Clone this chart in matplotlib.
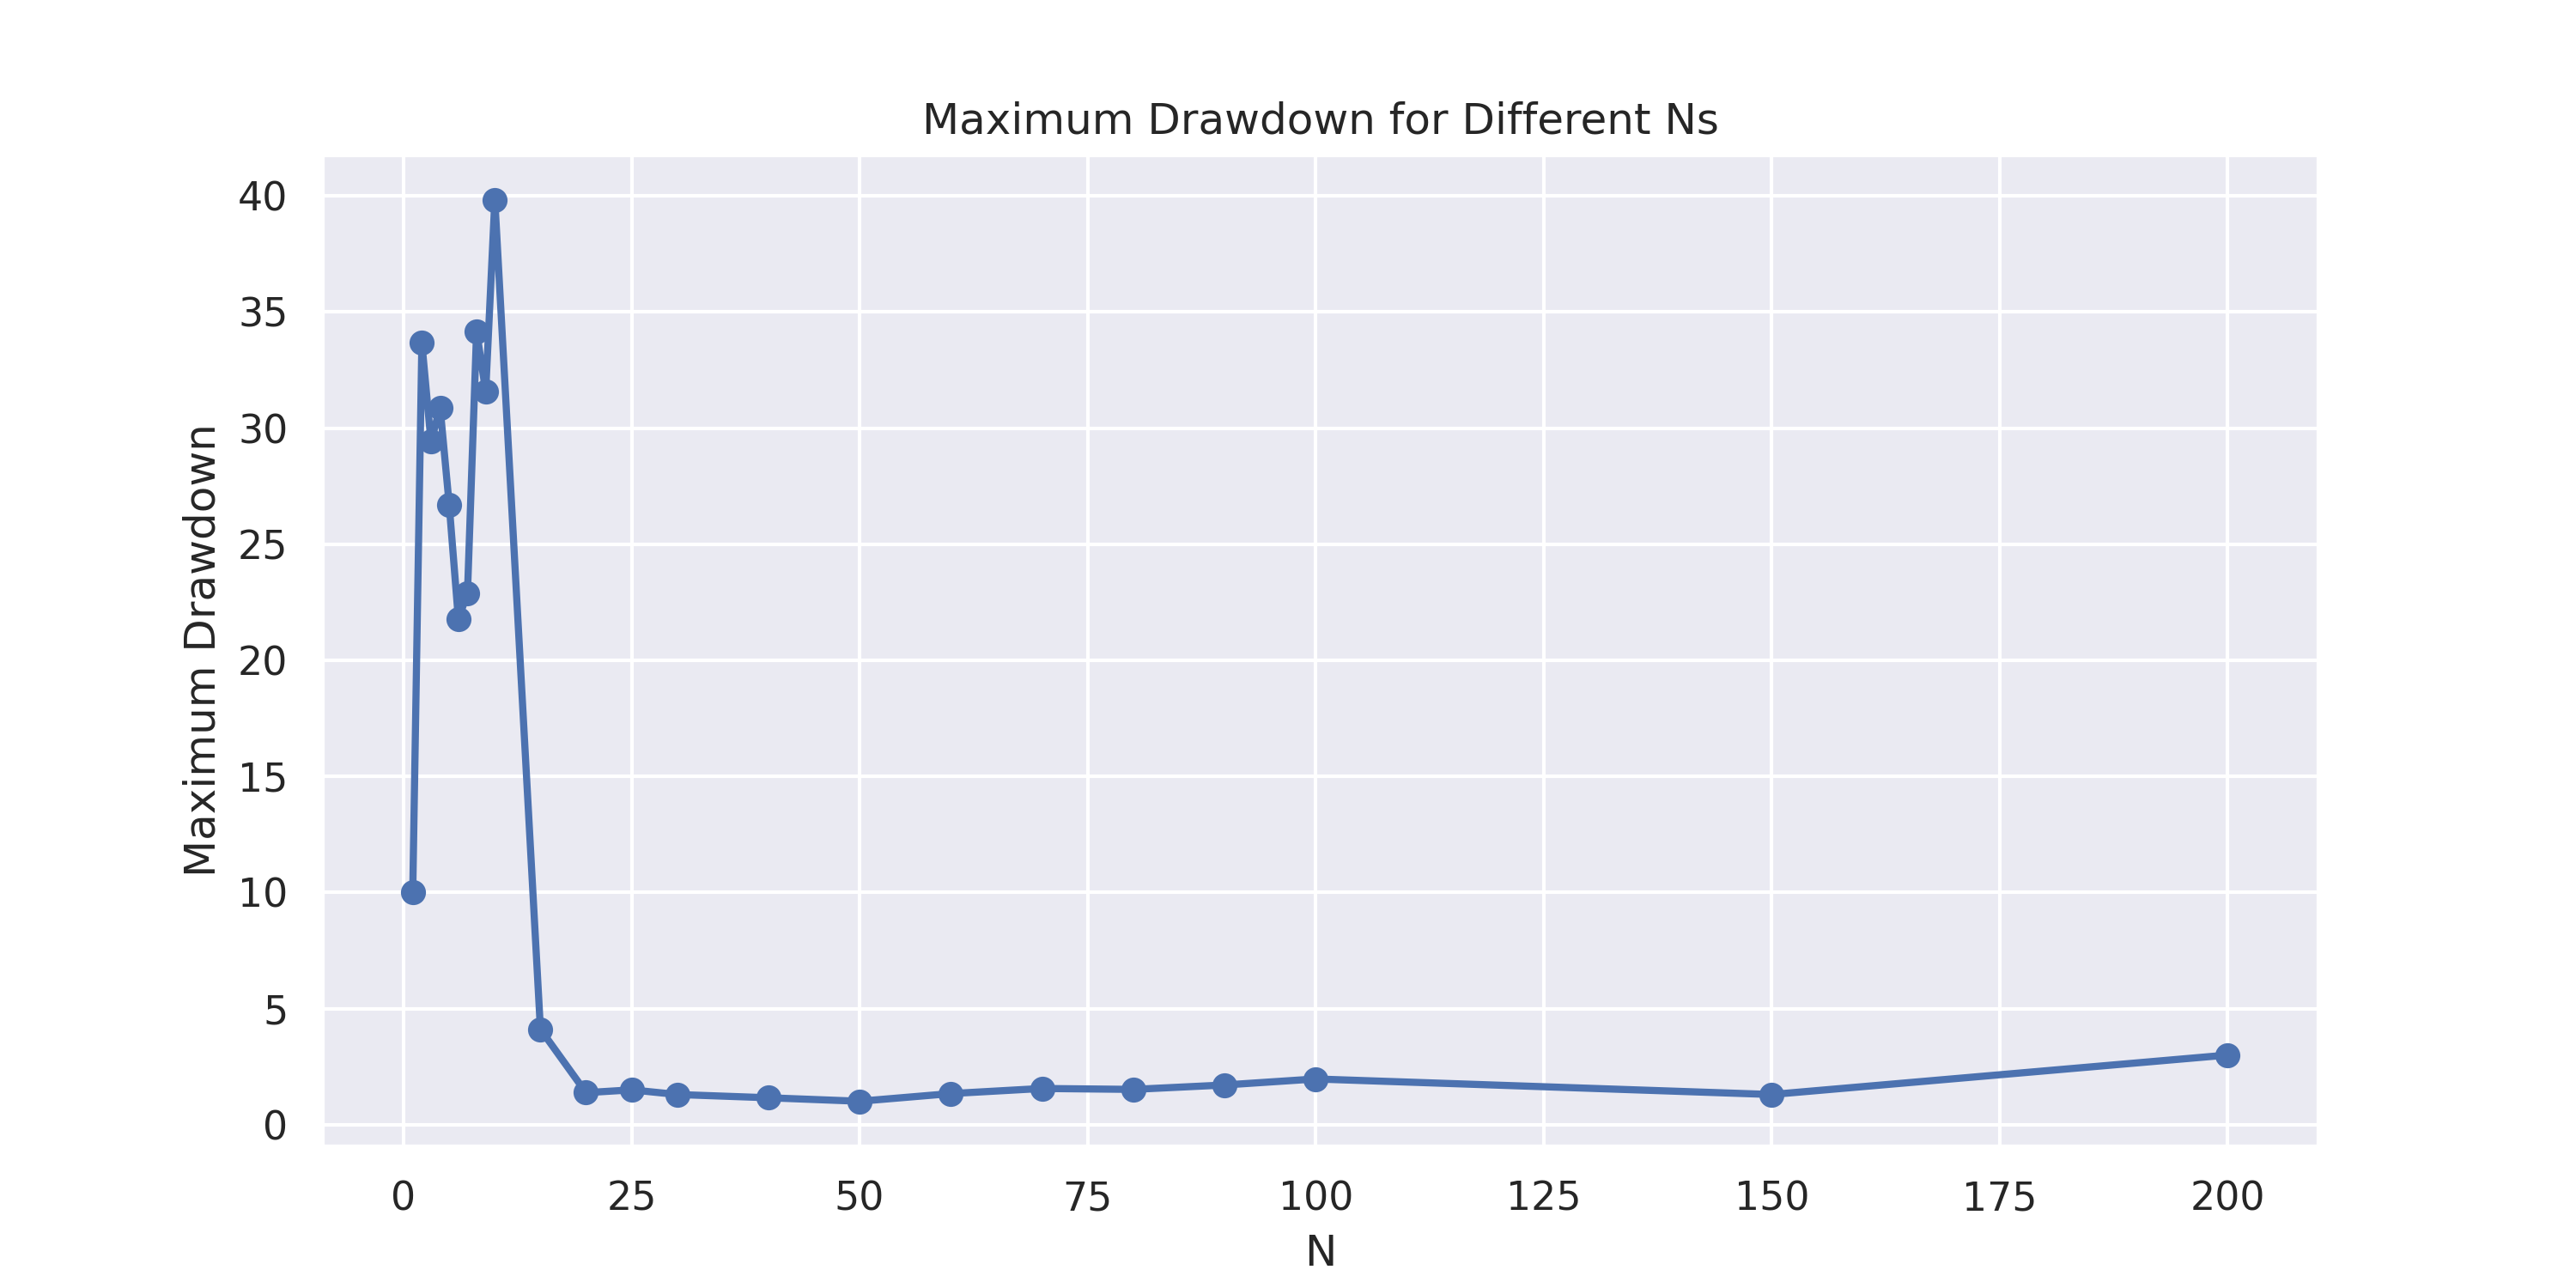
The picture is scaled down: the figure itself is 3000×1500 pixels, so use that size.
import matplotlib
matplotlib.use("Agg")
import matplotlib.pyplot as plt
import seaborn as sns

sns.set_theme()
plt.rcParams['font.family'] = ['DejaVu Sans']

ns = [1, 2, 3, 4, 5, 6, 7, 8, 9, 10, 15, 20, 25, 30, 40, 50, 60, 70, 80, 90, 100, 150, 200]
max_drawdown = [10.0, 33.67, 29.42, 30.89, 26.69, 21.78, 22.88, 34.17, 31.58, 39.84,
                4.11, 1.38, 1.50, 1.30, 1.16, 1.01, 1.34, 1.56, 1.52, 1.71, 1.97, 1.30, 3.0]

fig, ax = plt.subplots(figsize=(10, 5))
ax.plot(ns, max_drawdown, marker='o', linewidth=2)
ax.set_title('Maximum Drawdown for Different Ns')
ax.set_xlabel('N')
ax.set_ylabel('Maximum Drawdown')
fig.savefig('out.png', dpi=300)
